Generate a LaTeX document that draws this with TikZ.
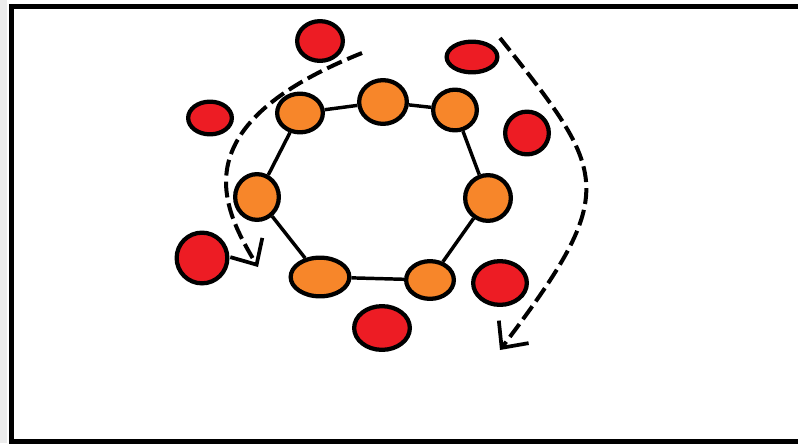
\documentclass[tikz,border=0pt]{standalone}
\usepackage{tikz}
\usetikzlibrary{shapes.geometric,arrows.meta}
\definecolor{atomorange}{HTML}{F7862A}
\definecolor{atomred}{HTML}{ED1C24}

\begin{document}
\begin{tikzpicture}[x=0.75pt,y=-0.75pt,
        atom/.style={ellipse, draw=black, line width=3.2pt, inner sep=0pt},
        orangeatom/.style={atom, fill=atomorange},
        redatom/.style={atom, fill=atomred},
        bond/.style={line width=2.6pt},
        flow/.style={line width=3pt, dash pattern=on 12pt off 4.5pt,
            -{Straight Barb[length=15pt, width=28pt, line width=2.8pt]}}]
    \useasboundingbox (0,0) rectangle (798,443);

    % Marco
    \fill[gray!15] (0,0) rectangle (7,443);
    \draw[line width=3.75pt] (798,6.5) -- (11.5,6.5) -- (11.5,441) -- (798,441);

    % Anillo naranja
    \foreach \n/\x/\y/\w/\h in {o1/300/113/50/43, o2/383/102/52/48, o3/455/110/48/45,
            o4/257/197/48/50, o5/488/198/50/50, o6/320/277/63/43, o7/430/280/52/42}
        \node[orangeatom, minimum width={(\w-4.3)*0.75pt}, minimum height={(\h-4.3)*0.75pt}]
            (\n) at (\x,\y) {};

    % Enlaces
    \draw[bond] (o1) -- (o2) (o2) -- (o3) (o3) -- (o5) (o5) -- (o7)
        (o7) -- (o6) (o6) -- (o4) (o4) -- (o1);

    % Atomos rojos
    \foreach \n/\x/\y/\w/\h in {r1/320/41/50/44, r2/472/57/55/35, r3/210/118/48/37,
            r4/527/133/48/47, r5/202/258/55/55, r6/500/283/58/48, r7/382/328/60/48}
        \node[redatom, minimum width={(\w-4.3)*0.75pt}, minimum height={(\h-4.3)*0.75pt}]
            (\n) at (\x,\y) {};

    % Flechas de giro
    \coordinate (ls) at (362,53);
    \coordinate (le) at (258,267);
    \coordinate (rs) at (500,38);
    \coordinate (re) at (500,350);
    \draw[flow] (ls) .. controls (180,126) and (222,207) .. (le);
    \draw[flow] (rs) .. controls (608,174) and (621,190) .. (re);
\end{tikzpicture}
\end{document}
